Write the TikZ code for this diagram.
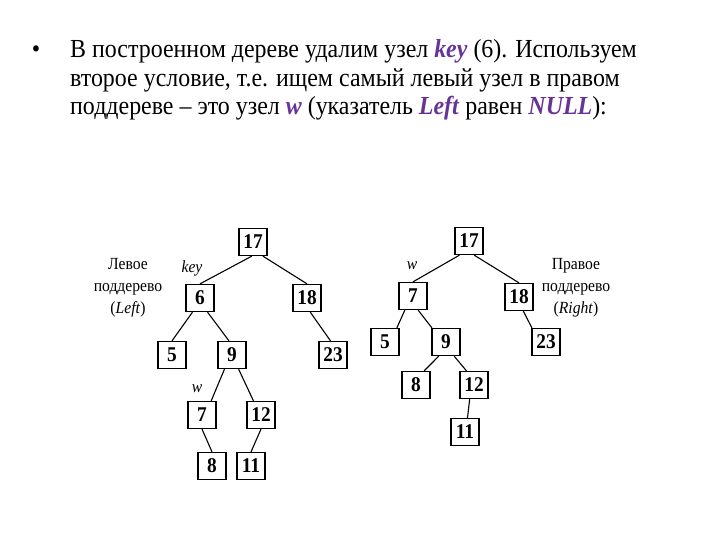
\documentclass[tikz,border=0pt]{standalone}
\usepackage{fontspec}
\setmainfont[FakeStretch=0.92]{Liberation Serif}
\usepackage{xcolor}
\usepackage{tikz}
\definecolor{keypurple}{RGB}{102, 51, 153}

\begin{document}
\begin{tikzpicture}[
  x=1pt, y=-1pt,
  box/.style={draw, line width=1.3pt, minimum width=28, minimum height=27, inner sep=0pt,
    font=\fontsize{21}{21}\selectfont\bfseries},
  edge/.style={line width=1.1pt},
  txt/.style={anchor=base west, inner sep=0pt, font=\fontsize{26}{28}\selectfont},
  lab/.style={inner sep=0pt, align=center, font=\fontsize{17}{22}\selectfont},
  tag/.style={inner sep=0pt, font=\fontsize{17}{17}\selectfont\itshape},
]
  % Frame
  \useasboundingbox (0,0) rectangle (720,540);

  % Header text
  \node[txt, anchor=base] (bul) at (36,58) {\textbullet};
  \node[txt] (t1) at (70,58) {В построенном дереве удалим узел \textcolor{keypurple}{\textbf{\textit{key}}} (6). Используем};
  \node[txt] (t2) at (70,87) {второе условие, т.е. ищем самый левый узел в правом};
  \node[txt] (t3) at (70,115) {поддереве -- это узел \textcolor{keypurple}{\textbf{\textit{w}}} (указатель \textcolor{keypurple}{\textbf{\textit{Left}}} равен \textcolor{keypurple}{\textbf{\textit{NULL}}}):};

  % Left tree (before removal)
  \node[box] (l17) at (253,242) {17};
  \node[box] (l6)  at (200,298) {6};
  \node[box] (l18) at (307,298) {18};
  \node[box] (l5)  at (172,355) {5};
  \node[box] (l9)  at (232,355) {9};
  \node[box] (l23) at (333,355) {23};
  \node[box] (l7)  at (202,415) {7};
  \node[box] (l12) at (261,415) {12};
  \node[box] (l8)  at (212,466) {8};
  \node[box] (l11) at (251,466) {11};

  \draw[edge] (l17.-95) -- (l6.north);
  \draw[edge] (l17.-55) -- (l18.north);
  \draw[edge] (l6.-118) -- (l5.north);
  \draw[edge] (l6.-62) -- (l9.102);
  \draw[edge] (l18.-77) -- (l23.100);
  \draw[edge] (l9.-118) -- (l7.57);
  \draw[edge] (l9.-65) -- (l12.118);
  \draw[edge] (l7.south) -- (l8.north);
  \draw[edge] (l12.south) -- (l11.north);

  \node[lab] (lsub) at (128,288) {Левое\\поддерево\\(\textit{Left})};
  \node[tag] (lkey) at (192,268) {key};
  \node[tag] (lw)   at (197,389) {w};

  % Right tree (after removal)
  \node[box] (r17) at (469,241) {17};
  \node[box] (r7)  at (413,296) {7};
  \node[box] (r18) at (519,297) {18};
  \node[box] (r5)  at (385,342) {5};
  \node[box] (r9)  at (446,342) {9};
  \node[box] (r23) at (546,342) {23};
  \node[box] (r8)  at (416,385) {8};
  \node[box] (r12) at (474,385) {12};
  \node[box] (r11) at (465,432) {11};

  \draw[edge] (r17.-124) -- (r7.north);
  \draw[edge] (r17.-70) -- (r18.north);
  \draw[edge] (r7.-120) -- (r5.50);
  \draw[edge] (r7.-70) -- (r9.135);
  \draw[edge] (r9.-117) -- (r8.60);
  \draw[edge] (r9.-60) -- (r12.118);
  \draw[edge] (r12.-107) -- (r11.80);
  \draw[edge] (r18.-73) -- (r23.135);

  \node[lab] (rsub) at (576,288) {Правое\\поддерево\\(\textit{Right})};
  \node[tag] (rw) at (412,266) {w};
\end{tikzpicture}
\end{document}
